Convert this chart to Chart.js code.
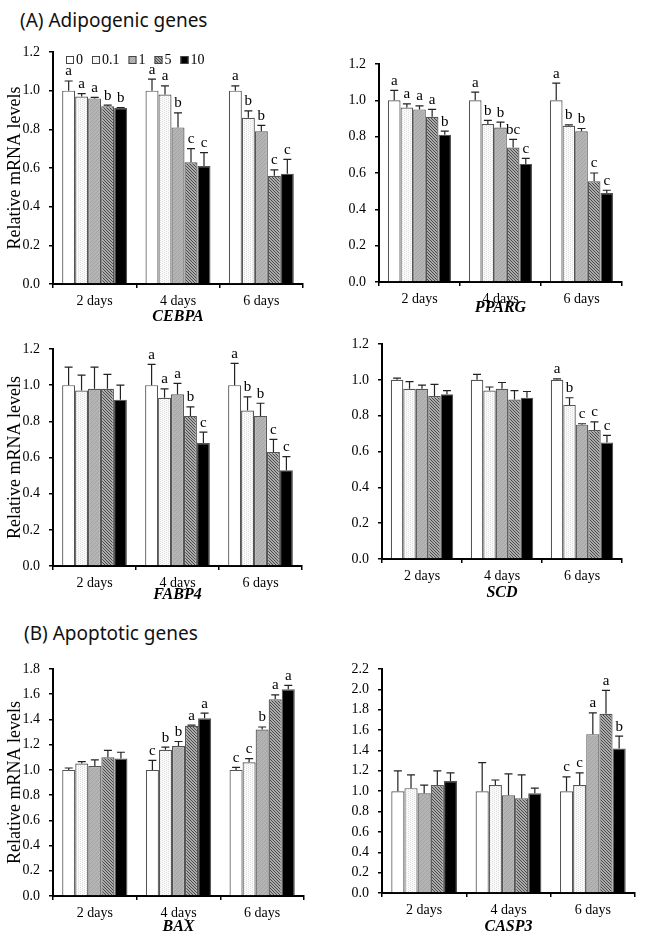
<!DOCTYPE html>
<html>
<head>
<meta charset="utf-8">
<script src="https://cdn.jsdelivr.net/npm/chart.js@4.4.1/dist/chart.umd.min.js"></script>
<style>
  body { margin: 0; background: #fff; width: 646px; height: 941px; position: relative; overflow: hidden; }
  canvas { position: absolute; }
  .heading { position: absolute; font-family: 'Noto Sans', sans-serif; font-size: 19px; line-height: 20px; color: #111; white-space: nowrap; }
</style>
</head>
<body>
<div class="heading" style="left:20px;top:10px">(A) Adipogenic genes</div>
<div class="heading" style="left:24px;top:623px">(B) Apoptotic genes</div>
<script>
const dayLabels = ['2 days', '4 days', '6 days'];
const doseLabels = ['0', '0.1', '1', '5', '10'];

// rows = day (2, 4, 6), columns = dose (0, 0.1, 1, 5, 10)
const cebpaMean = [[1.00, 0.97, 0.96, 0.92, 0.91], [1.00, 0.98, 0.81, 0.63, 0.61], [1.00, 0.86, 0.79, 0.56, 0.57]];
const cebpaErr  = [[0.05, 0.015, 0.005, 0.005, 0.003], [0.06, 0.045, 0.075, 0.07, 0.07], [0.025, 0.035, 0.03, 0.03, 0.075]];
const cebpaSig  = [['a', 'a', 'a', 'b', 'b'], ['a', 'a', 'b', 'c', 'c'], ['a', 'b', 'b', 'c', 'c']];

const ppargMean = [[1.00, 0.96, 0.95, 0.91, 0.81], [1.00, 0.87, 0.85, 0.74, 0.65], [1.00, 0.86, 0.83, 0.555, 0.49]];
const ppargErr  = [[0.055, 0.02, 0.02, 0.04, 0.02], [0.045, 0.02, 0.03, 0.045, 0.03], [0.095, 0.005, 0.015, 0.045, 0.015]];
const ppargSig  = [['a', 'a', 'a', 'a', 'b'], ['a', 'b', 'b', 'bc', 'c'], ['a', 'b', 'b', 'c', 'c']];

const fabp4Mean = [[1.00, 0.97, 0.98, 0.98, 0.92], [1.00, 0.93, 0.95, 0.83, 0.68], [1.00, 0.86, 0.83, 0.63, 0.53]];
const fabp4Err  = [[0.10, 0.085, 0.12, 0.08, 0.08], [0.115, 0.05, 0.06, 0.05, 0.06], [0.12, 0.075, 0.07, 0.07, 0.075]];
const fabp4Sig  = [['', '', '', '', ''], ['a', 'a', 'a', 'b', 'c'], ['a', 'b', 'b', 'c', 'c']];

const scdMean = [[1.00, 0.95, 0.95, 0.91, 0.92], [1.00, 0.94, 0.95, 0.89, 0.90], [1.00, 0.86, 0.75, 0.72, 0.65]];
const scdErr  = [[0.01, 0.04, 0.02, 0.065, 0.02], [0.03, 0.02, 0.035, 0.05, 0.035], [0.005, 0.04, 0.005, 0.045, 0.04]];
const scdSig  = [['', '', '', '', ''], ['', '', '', '', ''], ['a', 'b', 'c', 'c', 'c']];

const baxMean = [[1.00, 1.05, 1.03, 1.10, 1.09], [1.00, 1.16, 1.19, 1.35, 1.41], [1.00, 1.06, 1.32, 1.56, 1.64]];
const baxErr  = [[0.015, 0.015, 0.05, 0.055, 0.05], [0.075, 0.02, 0.035, 0.005, 0.04], [0.02, 0.03, 0.02, 0.035, 0.03]];
const baxSig  = [['', '', '', '', ''], ['c', 'b', 'b', 'a', 'a'], ['c', 'c', 'b', 'a', 'a']];

const casp3Mean = [[1.00, 1.03, 0.98, 1.06, 1.10], [1.00, 1.06, 0.96, 0.93, 0.98], [1.00, 1.06, 1.56, 1.76, 1.42]];
const casp3Err  = [[0.20, 0.13, 0.08, 0.14, 0.08], [0.28, 0.05, 0.21, 0.23, 0.05], [0.14, 0.12, 0.21, 0.23, 0.12]];
const casp3Sig  = [['', '', '', '', ''], ['', '', '', '', ''], ['c', 'c', 'a', 'a', 'b']];

const SERIF = "'Liberation Serif', 'Times New Roman', serif";

// box = canvas [x, y, w, h], area = plot [left, top, right, bottom] in page pixels
const panels = [
  { gene: 'CEBPA', mean: cebpaMean, err: cebpaErr, sig: cebpaSig, max: 1.2, box: [0, 28, 320, 302], area: [53, 52, 303, 284], yTitle: true, legend: true, geneGap: 33 },
  { gene: 'PPARG', mean: ppargMean, err: ppargErr, sig: ppargSig, max: 1.2, box: [320, 28, 326, 302], area: [379, 64, 622, 282], yTitle: false, legend: false, geneGap: 26 },
  { gene: 'FABP4', mean: fabp4Mean, err: fabp4Err, sig: fabp4Sig, max: 1.2, box: [0, 325, 320, 290], area: [53, 349, 302, 566], yTitle: true, legend: false, geneGap: 29 },
  { gene: 'SCD', mean: scdMean, err: scdErr, sig: scdSig, max: 1.2, box: [320, 325, 326, 290], area: [382, 344, 622, 559], yTitle: false, legend: false, geneGap: 34 },
  { gene: 'BAX', mean: baxMean, err: baxErr, sig: baxSig, max: 1.8, box: [0, 645, 320, 296], area: [53, 669, 304, 896], yTitle: true, legend: false, geneGap: 31 },
  { gene: 'CASP3', mean: casp3Mean, err: casp3Err, sig: casp3Sig, max: 2.2, box: [320, 645, 326, 296], area: [382, 669, 635, 893], yTitle: false, legend: false, geneGap: 34 },
];

function tile(size, painter) {
  const c = document.createElement('canvas');
  c.width = size; c.height = size;
  const g = c.getContext('2d');
  for (let y = 0; y < size; y++) {
    for (let x = 0; x < size; x++) {
      g.fillStyle = painter(x, y);
      g.fillRect(x, y, 1, 1);
    }
  }
  return g.createPattern(c, 'repeat');
}

const fills = [
  '#ffffff',
  tile(4, (x, y) => ((x + 2 * y) % 4 === 0 ? '#dedede' : '#fafafa')),
  tile(4, (x, y) => ((x + y) % 4 === 0 ? '#a4a4a4' : '#b4b4b4')),
  tile(3, (x, y) => ((x - y + 3) % 3 === 0 ? '#4a4a4a' : '#ababab')),
  '#000000',
];

const errorBars = {
  id: 'errorBars',
  afterDatasetsDraw(chart) {
    const { ctx } = chart;
    const yScale = chart.scales.y;
    ctx.save();
    ctx.strokeStyle = '#222';
    ctx.lineWidth = 1.2;
    ctx.fillStyle = '#000';
    ctx.font = '15px ' + SERIF;
    ctx.textAlign = 'center';
    ctx.textBaseline = 'bottom';
    chart.data.datasets.forEach((ds, di) => {
      chart.getDatasetMeta(di).data.forEach((bar, i) => {
        const top = yScale.getPixelForValue(ds.data[i] + ds.errors[i]);
        ctx.beginPath();
        ctx.moveTo(bar.x, bar.y);
        ctx.lineTo(bar.x, top);
        ctx.moveTo(bar.x - 4, top);
        ctx.lineTo(bar.x + 4, top);
        ctx.stroke();
        if (ds.letters[i]) ctx.fillText(ds.letters[i], bar.x, top - 2);
      });
    });
    ctx.restore();
  },
};

const doseLegend = {
  id: 'doseLegend',
  afterDraw(chart, args, opts) {
    if (!opts.show) return;
    const { ctx, chartArea } = chart;
    const cy = chartArea.top + 8;
    let x = chartArea.left + 13;
    ctx.save();
    ctx.font = '14px ' + SERIF;
    ctx.textBaseline = 'middle';
    ctx.textAlign = 'left';
    chart.data.datasets.forEach(ds => {
      ctx.fillStyle = ds.backgroundColor;
      ctx.fillRect(x, cy - 4, 8, 8);
      ctx.strokeStyle = '#444';
      ctx.lineWidth = 1;
      ctx.strokeRect(x + 0.5, cy - 3.5, 7, 7);
      x += 10;
      ctx.fillStyle = '#000';
      ctx.fillText(ds.label, x, cy);
      x += ctx.measureText(ds.label).width + 9;
    });
    ctx.restore();
  },
};

const geneTitle = {
  id: 'geneTitle',
  afterDraw(chart, args, opts) {
    const { ctx, chartArea } = chart;
    ctx.save();
    ctx.font = 'italic bold 16px ' + SERIF;
    ctx.fillStyle = '#000';
    ctx.textAlign = 'center';
    ctx.textBaseline = 'middle';
    ctx.fillText(opts.text, (chartArea.left + chartArea.right) / 2, chartArea.bottom + opts.gap);
    ctx.restore();
  },
};

function buildPanel(p) {
  const [bx, by, bw, bh] = p.box;
  const [al, at, ar, ab] = p.area;
  const canvas = document.createElement('canvas');
  canvas.width = bw;
  canvas.height = bh;
  canvas.style.left = bx + 'px';
  canvas.style.top = by + 'px';
  document.body.appendChild(canvas);

  const datasets = doseLabels.map((dose, k) => ({
    label: dose,
    data: p.mean.map(row => row[k]),
    errors: p.err.map(row => row[k]),
    letters: p.sig.map(row => row[k]),
    backgroundColor: fills[k],
    borderColor: '#555',
    borderWidth: 1.2,
    categoryPercentage: 0.78,
    barPercentage: 1,
  }));

  return new Chart(canvas, {
    type: 'bar',
    data: { labels: dayLabels, datasets },
    plugins: [errorBars, doseLegend, geneTitle],
    options: {
      responsive: false,
      animation: false,
      layout: { padding: { left: 0, top: at - by, right: bx + bw - ar, bottom: 0 } },
      plugins: {
        legend: { display: false },
        tooltip: { enabled: false },
        doseLegend: { show: p.legend },
        geneTitle: { text: p.gene, gap: p.geneGap },
      },
      scales: {
        x: {
          grid: { drawOnChartArea: false, drawTicks: true, tickLength: 4, color: '#000', lineWidth: 1.5, offset: true },
          border: { display: true, color: '#000', width: 2 },
          ticks: { color: '#000', font: { family: SERIF, size: 14 }, padding: 5 },
          afterFit: s => { s.height = by + bh - ab; },
        },
        y: {
          min: 0,
          max: p.max,
          ticks: { stepSize: 0.2, callback: v => v.toFixed(1), color: '#000', font: { family: SERIF, size: 14 }, padding: 9 },
          grid: { drawOnChartArea: false, drawTicks: true, tickLength: 4, color: '#000', lineWidth: 1.5 },
          border: { display: true, color: '#000', width: 2 },
          title: { display: p.yTitle, text: 'Relative mRNA levels', color: '#000', font: { family: SERIF, size: 18 }, padding: { top: 4, bottom: 0 } },
          afterFit: s => { s.width = al - bx; },
        },
      },
    },
  });
}

panels.forEach(buildPanel);
</script>
</body>
</html>
